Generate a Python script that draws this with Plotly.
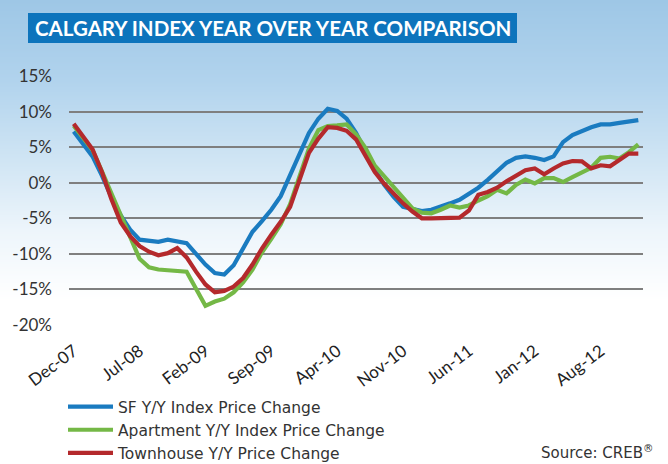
import base64, struct, zlib
import pandas as pd
import plotly.graph_objects as go

# ---- data -------------------------------------------------------------
months = [d.strftime("%b-%y") for d in pd.date_range("2007-12-01", periods=61, freq="MS")]
tick_labels = ["Dec-07", "Jul-08", "Feb-09", "Sep-09", "Apr-10", "Nov-10", "Jun-11", "Jan-12", "Aug-12"]
y_ticks = [-20, -15, -10, -5, 0, 5, 10, 15]
y_tick_text = ["-20%", "-15%", "-10%", "-5%", "0%", "5%", "10%", "15%"]

sf = [7.2, 5.5, 3.7, 1.0, -2.0, -4.6, -6.6, -8.0, -8.2, -8.3,
      -8.0, -8.2, -8.5, -10.0, -11.5, -12.7, -12.9, -11.6, -9.1, -6.9,
      -5.4, -3.8, -1.9, 1.1, 4.2, 7.0, 9.0, 10.4, 10.1, 9.0,
      7.0, 4.5, 1.8, -0.3, -2.0, -3.4, -3.7, -4.0, -3.8, -3.4,
      -2.9, -2.4, -1.6, -0.7, 0.4, 1.6, 2.8, 3.5, 3.7, 3.5,
      3.2, 3.7, 5.7, 6.7, 7.3, 7.8, 8.2, 8.2, 8.4, 8.6,
      8.8]

apartment = [8.0, 6.3, 4.6, 1.6, -1.5, -4.5, -7.5, -10.7, -11.9, -12.2,
             -12.3, -12.45, -12.5, -14.9, -17.3, -16.7, -16.3, -15.4, -14.0, -12.2,
             -9.8, -7.9, -5.85, -3.0, 1.0, 4.8, 7.4, 7.95, 8.05, 8.2,
             6.8, 4.9, 2.4, 0.9, -0.4, -1.9, -3.6, -4.2, -4.3, -3.8,
             -3.2, -3.5, -3.2, -2.5, -1.9, -1.0, -1.5, -0.3, 0.45, -0.1,
             0.65, 0.65, 0.1, 0.8, 1.5, 2.1, 3.5, 3.65, 3.4, 4.3,
             5.4]

townhouse = [8.3, 6.5, 4.7, 1.5, -2.3, -5.6, -7.5, -8.9, -9.7, -10.2,
             -9.9, -9.2, -10.5, -12.5, -14.3, -15.4, -15.2, -14.6, -13.4, -11.5,
             -9.25, -7.3, -5.5, -3.4, 0.55, 4.2, 6.2, 7.8, 7.7, 7.3,
             6.1, 3.9, 1.5, -0.15, -1.55, -2.9, -4.05, -5.0, -5.0, -5.0,
             -5.0, -4.9, -3.9, -1.7, -1.3, -0.7, 0.2, 1.0, 1.75, 2.0,
             1.2, 2.0, 2.7, 3.05, 3.0, 2.0, 2.45, 2.3, 3.2, 4.1,
             4.1]

series = [
    ("SF Y/Y Index Price Change", sf, "#1a7bc0"),
    ("Apartment Y/Y Index Price Change", apartment, "#74b846"),
    ("Townhouse Y/Y Price Change", townhouse, "#b4292c"),
]

# ---- layout helpers ----------------------------------------------------
W, H = 668, 464
L, R, T, B = 69, 25, 76, 139
PW, PH = W - L - R, H - T - B

def px_x(px):
    return (px - L) / PW

def px_y(py):
    return (H - B - py) / PH

# vertical background gradient as a tiny PNG
stops = [(0, (158, 199, 230)), (80, (177, 211, 237)), (160, (208, 229, 244)),
         (230, (237, 245, 251)), (300, (255, 255, 255)), (H, (255, 255, 255))]

def color_at(y):
    for (y0, c0), (y1, c1) in zip(stops[:-1], stops[1:]):
        if y0 <= y <= y1:
            t = (y - y0) / (y1 - y0) if y1 > y0 else 0
            return tuple(int(round(a + (b - a) * t)) for a, b in zip(c0, c1))
    return stops[-1][1]

def make_png(w, h):
    raw = b""
    for y in range(h):
        c = color_at(y)
        raw += b"\x00" + bytes(c) * w
    def chunk(tag, data):
        return struct.pack(">I", len(data)) + tag + data + struct.pack(">I", zlib.crc32(tag + data) & 0xffffffff)
    png = b"\x89PNG\r\n\x1a\n" + chunk(b"IHDR", struct.pack(">IIBBBBB", w, h, 8, 2, 0, 0, 0))
    png += chunk(b"IDAT", zlib.compress(raw, 9)) + chunk(b"IEND", b"")
    return "data:image/png;base64," + base64.b64encode(png).decode()

fig = go.Figure()
for name, vals, color in series:
    fig.add_trace(go.Scatter(x=months, y=vals, name=name, mode="lines",
                             line=dict(color=color, width=4.2)))

fig.update_layout(
    width=W, height=H,
    margin=dict(l=L, r=R, t=T, b=B, autoexpand=False),
    paper_bgcolor="white",
    plot_bgcolor="rgba(0,0,0,0)",
    font=dict(family="Lato", color="#333333"),
    showlegend=True,
    legend=dict(x=px_x(63), y=px_y(390), xanchor="left", yanchor="top",
                bgcolor="rgba(0,0,0,0)", itemwidth=45,
                font=dict(family="DejaVu Sans", size=15.5, color="#333333"),
                tracegroupgap=0),
    images=[dict(source=make_png(2, H), xref="paper", yref="paper",
                 x=px_x(0), y=px_y(0), sizex=W / PW, sizey=H / PH,
                 xanchor="left", yanchor="top", sizing="stretch", layer="below")],
    shapes=[dict(type="rect", xref="paper", yref="paper",
                 x0=px_x(28), x1=px_x(517), y0=px_y(43), y1=px_y(13),
                 fillcolor="#0d74bc", line=dict(width=0))],
    annotations=[
        dict(text="CALGARY INDEX YEAR OVER YEAR COMPARISON", xref="paper", yref="paper",
             x=px_x(272.5), y=px_y(28), xanchor="center", yanchor="middle", showarrow=False,
             font=dict(family="Lato", size=20.5, color="white", weight="bold")),
        dict(text="Source: CREB<sup>®</sup>", xref="paper", yref="paper",
             x=px_x(656), y=px_y(452), xanchor="right", yanchor="middle", showarrow=False,
             font=dict(family="DejaVu Sans", size=15, color="#333333")),
    ],
)

fig.update_xaxes(type="category", range=[-0.5, len(months) - 0.5],
                 tickmode="array", tickvals=tick_labels, ticktext=tick_labels,
                 tickangle=-37, tickfont=dict(family="Lato", size=17, color="#222222"),
                 showgrid=False, showline=False, zeroline=False, ticks="",
                 ticklabelshift=0, ticklabelstandoff=12, automargin=False)
fig.update_yaxes(range=[-20, 15], tickmode="array", tickvals=y_ticks, ticktext=y_tick_text,
                 showgrid=True, gridcolor="#7f7f7f", gridwidth=2, zeroline=False,
                 showline=False, ticks="", ticklabelstandoff=16, automargin=False,
                 tickfont=dict(family="Lato", size=17, color="#333333"))

fig.write_html("out.html", config={"displayModeBar": False},
               post_script="document.body.style.margin='0';document.body.style.padding='0';")
